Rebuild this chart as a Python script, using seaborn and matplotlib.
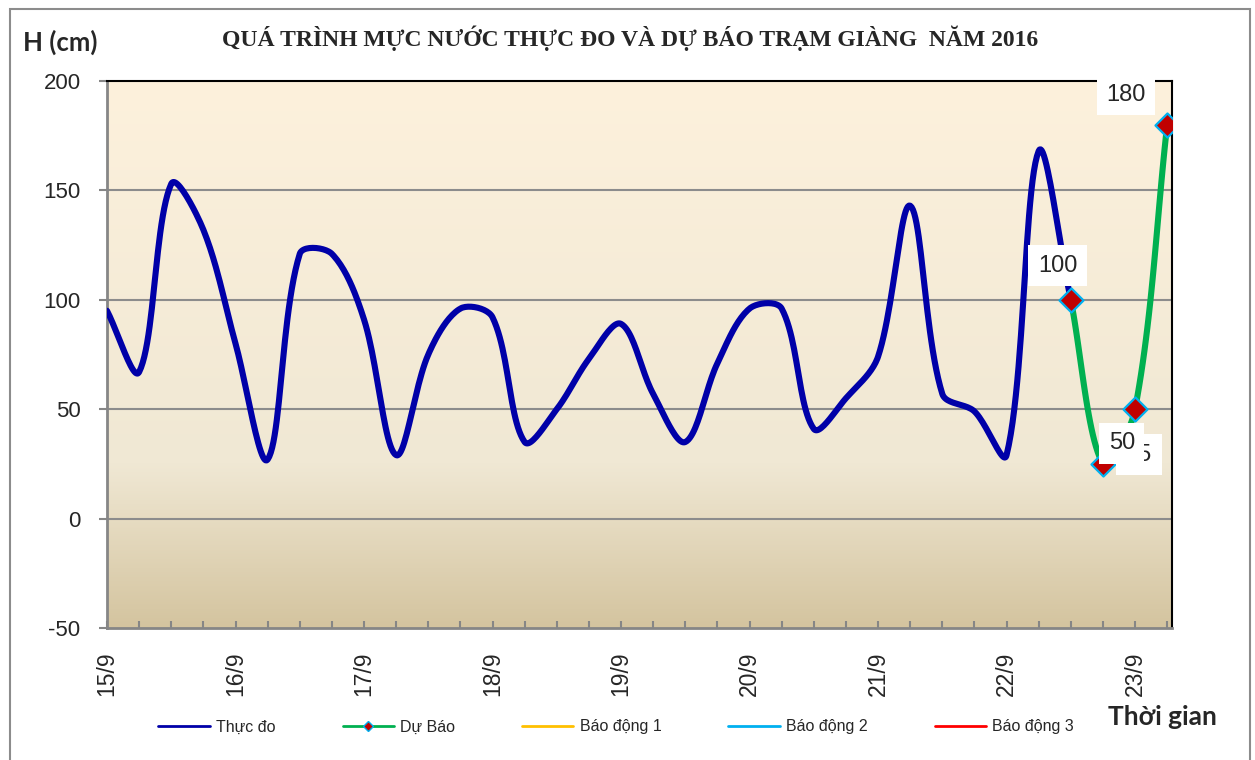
import numpy as np
import pandas as pd
import matplotlib
matplotlib.use("Agg")
import matplotlib.pyplot as plt
import seaborn as sns
from matplotlib.colors import LinearSegmentedColormap
from matplotlib.lines import Line2D
from matplotlib.patches import Rectangle

# Data (6-hourly water levels, cm)
day_labels = ['15/9', '16/9', '17/9', '18/9', '19/9', '20/9', '21/9', '22/9', '23/9']
observed = [95, 67, 153, 132, 80, 27, 121, 121, 91, 29, 75, 96, 92, 35, 50, 73,
            89, 57, 35, 71, 96, 96, 41, 55, 74, 143, 57, 49, 29, 168, 100]
forecast = [100, 25, 50, 180]
forecast_start = len(observed) - 1

obs_idx = np.arange(len(observed))
fc_idx = np.arange(forecast_start, forecast_start + len(forecast))


def smooth(ax, x, y, n=24, k=1 / 3):
    # Excel-like smoothed line: Bezier segments, tangents scaled by chord length on screen
    pts = ax.transData.transform(np.column_stack([x, y]).astype(float))
    p = np.vstack([pts[0], pts, pts[-1]])
    t = np.linspace(0, 1, n, endpoint=False)[:, None]
    out = []
    for i in range(1, len(p) - 2):
        p0, p1, p2, p3 = p[i - 1], p[i], p[i + 1], p[i + 2]
        d01 = np.hypot(*(p1 - p0))
        d12 = np.hypot(*(p2 - p1))
        d23 = np.hypot(*(p3 - p2))
        c1 = p1 + k * (p2 - p0) * d12 / max(d01 + d12, 1e-9)
        c2 = p2 - k * (p3 - p1) * d12 / max(d12 + d23, 1e-9)
        out.append((1 - t) ** 3 * p1 + 3 * (1 - t) ** 2 * t * c1
                   + 3 * (1 - t) * t ** 2 * c2 + t ** 3 * p2)
    out.append(pts[-1:])
    data = ax.transData.inverted().transform(np.vstack(out))
    return pd.DataFrame({'x': data[:, 0], 'y': data[:, 1]})


sns.set_style("white")
plt.rcParams['font.family'] = ['Liberation Sans', 'DejaVu Sans']
plt.rcParams['axes.unicode_minus'] = False

fig = plt.figure(figsize=(12.55, 7.6), dpi=100)
ax = fig.add_axes([107 / 1255, 1 - 628 / 760, (1172 - 107) / 1255, (628 - 81) / 760])
ax.set_xlim(0, 33.15)
ax.set_ylim(-50, 200)

# gradient background
cmap = LinearSegmentedColormap.from_list(
    'bg', [(0, '#FDF1DC'), (0.7, '#F0E8D4'), (1, '#D4C49F')])
ax.imshow(np.linspace(0, 1, 256).reshape(-1, 1), cmap=cmap, aspect='auto',
          extent=[0, 1, 0, 1], transform=ax.transAxes, zorder=0)

for v in [0, 50, 100, 150]:
    ax.axhline(v, color='#8C8C8C', lw=1.5, zorder=1)

sns.lineplot(data=smooth(ax, obs_idx, observed), x='x', y='y', sort=False, ax=ax,
             color='#0000A8', lw=4.4, zorder=3, estimator=None)
sns.lineplot(data=smooth(ax, fc_idx, forecast), x='x', y='y', sort=False, ax=ax,
             color='#00B050', lw=4.4, zorder=3, estimator=None)
sns.scatterplot(x=fc_idx, y=forecast, marker='D', s=150, color='#C00000',
                edgecolor='#00B0F0', linewidth=1.6, ax=ax, zorder=4)

# data labels (the 25 and 50 boxes overlap in the original too)
offsets = [(-9.5, 24.5), (26, 6.5), (-9.5, -24.5), (-29.5, 21.5)]
for xi, yi, off in zip(fc_idx, forecast, offsets):
    ax.annotate(str(yi), (xi, yi), xytext=off, textcoords='offset points',
                ha='center', va='center', fontsize=17, zorder=6,
                bbox=dict(boxstyle='square,pad=0.4', fc='white', ec='none'),
                annotation_clip=False)

ax.set_xlim(0, 33.15)
ax.set_ylim(-50, 200)
ax.set_yticks([-50, 0, 50, 100, 150, 200])
ax.set_xticks(np.arange(0, 33, 4))
ax.set_xticklabels(day_labels, rotation=90, fontsize=16.5)
ax.set_xticks(np.arange(0, 34, 1), minor=True)
ax.tick_params(axis='y', labelsize=16, direction='out', length=6, color='#868686',
               width=1.5, left=True, pad=13)
ax.tick_params(axis='x', which='both', direction='in', length=5, color='#868686',
               width=1.5, bottom=True, pad=17)
ax.set_xlabel('')
ax.set_ylabel('')

for side in ['left', 'bottom']:
    ax.spines[side].set_color('#868686')
    ax.spines[side].set_linewidth(2)
for side in ['top', 'right']:
    ax.spines[side].set_color('#000000')
    ax.spines[side].set_linewidth(1.5)

fig.text(630 / 1255, 1 - 38 / 760,
         'QUÁ TRÌNH MỰC NƯỚC THỰC ĐO VÀ DỰ BÁO TRẠM GIÀNG  NĂM 2016',
         ha='center', va='center', fontsize=17, fontweight='bold',
         family=['Liberation Serif', 'DejaVu Serif'])
fig.text(60 / 1255, 1 - 42 / 760, 'H (cm)', ha='center', va='center',
         fontsize=18.5, fontweight='bold', family=['Lato', 'DejaVu Sans'])
fig.text(1162 / 1255, 1 - 717 / 760, 'Thời gian', ha='center', va='center',
         fontsize=19, fontweight='bold', family=['Lato', 'DejaVu Sans'])

handles = [
    Line2D([], [], color='#0000A8', lw=2),
    Line2D([], [], color='#00B050', lw=2, marker='D', markersize=5,
           markerfacecolor='#C00000', markeredgecolor='#00B0F0'),
    Line2D([], [], color='#FFC000', lw=2),
    Line2D([], [], color='#00B0F0', lw=2),
    Line2D([], [], color='#FF0000', lw=2),
]
labels = ['Thực đo', 'Dự Báo', 'Báo động 1', 'Báo động 2', 'Báo động 3']
fig.legend(handles, labels, loc='center', bbox_to_anchor=(0.491, 1 - 727 / 760),
           ncol=5, frameon=False, fontsize=11.5, handlelength=3.2,
           handletextpad=0.4, columnspacing=4.2)

fig.patches.append(Rectangle((10 / 1255, -0.05), 1240 / 1255, 1.05 - 8.5 / 760,
                             transform=fig.transFigure, fill=False,
                             ec='#8C8C8C', lw=1.5))

fig.savefig('out.png', dpi=100)
